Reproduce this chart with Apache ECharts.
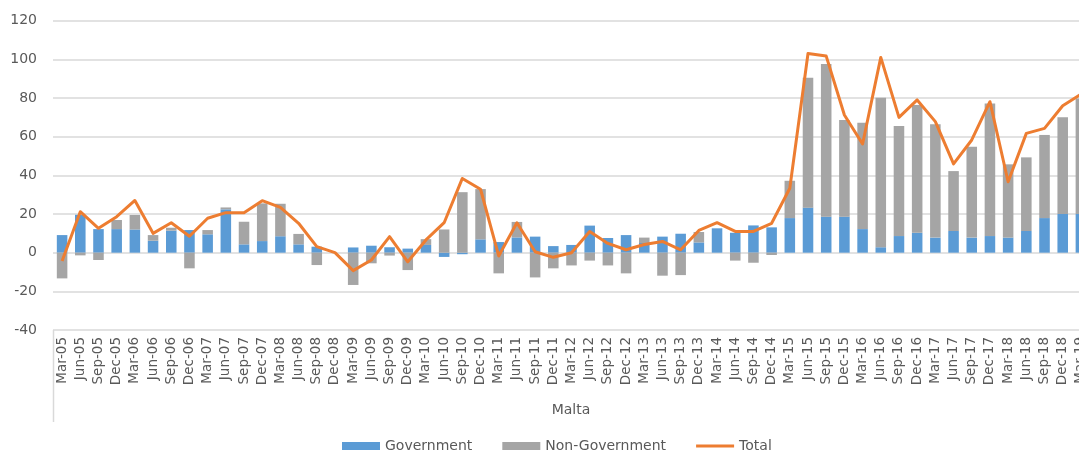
<!DOCTYPE html>
<html>
<head>
<meta charset="utf-8">
<script src="https://cdn.jsdelivr.net/npm/echarts@6/dist/echarts.min.js"></script>
<style>
  html, body { margin: 0; padding: 0; background: #fff; overflow: hidden; }
  #chart { width: 1110px; height: 454px; }
</style>
</head>
<body>
<div id="chart"></div>
<script>
// quarters, Mar-05 .. Mar-19 (last one is cut off at the right edge)
const quarters = [
  'Mar-05', 'Jun-05', 'Sep-05', 'Dec-05', 'Mar-06', 'Jun-06', 'Sep-06', 'Dec-06',
  'Mar-07', 'Jun-07', 'Sep-07', 'Dec-07', 'Mar-08', 'Jun-08', 'Sep-08', 'Dec-08',
  'Mar-09', 'Jun-09', 'Sep-09', 'Dec-09', 'Mar-10', 'Jun-10', 'Sep-10', 'Dec-10',
  'Mar-11', 'Jun-11', 'Sep-11', 'Dec-11', 'Mar-12', 'Jun-12', 'Sep-12', 'Dec-12',
  'Mar-13', 'Jun-13', 'Sep-13', 'Dec-13', 'Mar-14', 'Jun-14', 'Sep-14', 'Dec-14',
  'Mar-15', 'Jun-15', 'Sep-15', 'Dec-15', 'Mar-16', 'Jun-16', 'Sep-16', 'Dec-16',
  'Mar-17', 'Jun-17', 'Sep-17', 'Dec-17', 'Mar-18', 'Jun-18', 'Sep-18', 'Dec-18',
  'Mar-19'
];

const government = [
  9.1, 19.6, 12.2, 12.2, 12.0, 6.2, 11.4, 11.7,
  9.5, 22.4, 4.3, 6.0, 8.5, 4.3, 3.1, 0,
  2.7, 3.6, 2.8, 2.1, 4.0, -2.2, -0.8, 6.9,
  5.5, 7.9, 8.3, 3.4, 4.0, 14.0, 7.6, 9.1,
  5.0, 8.3, 9.8, 5.3, 12.6, 10.3, 14.1, 13.1,
  17.9, 23.3, 18.6, 18.6, 12.2, 2.8, 8.6, 10.3,
  7.8, 11.2, 7.8, 8.6, 7.8, 11.2, 17.9, 20.0,
  20.0
];

const nonGovernment = [
  -13.3, -1.4, -3.8, 4.7, 7.5, 2.9, 1.5, -8.1,
  2.2, 1.0, 11.7, 19.5, 16.8, 5.4, -6.4, 0,
  -16.7, -5.5, -1.5, -9.0, 3.0, 12.0, 31.3, 26.0,
  -10.7, 8.0, -12.8, -8.1, -6.6, -4.1, -6.6, -10.7,
  2.8, -11.9, -11.6, 5.4, 0, -4.1, -5.2, -1.2,
  19.3, 67.2, 79.0, 50.0, 55.0, 77.4, 56.9, 66.1,
  58.6, 31.0, 47.0, 68.6, 37.9, 38.1, 43.0, 50.0,
  59.8
];

const total = [
  -4.3, 21.2, 12.6, 18.6, 27.0, 10.0, 15.5, 8.5,
  17.8, 20.7, 20.7, 26.9, 23.4, 15.2, 3.1, 0,
  -9.3, -3.8, 8.3, -4.7, 6.6, 15.5, 38.4, 32.8,
  -1.7, 15.5, 0.5, -2.4, 0, 10.9, 4.8, 1.5,
  4.2, 5.8, 1.5, 11.5, 15.5, 11.0, 11.0, 15.2,
  33.3, 103.0, 101.7, 71.2, 56.2, 101.0, 70.0, 79.0,
  67.8, 45.9, 58.3, 78.1, 36.7, 61.7, 64.3, 76.0,
  82.0
];

const yTicks = [-40, 120, 20]; // min, max, step
const groupLabel = 'Malta';

const chart = echarts.init(document.getElementById('chart'));
const font = "'DejaVu Sans', sans-serif";
const grey = '#595959';

const option = {
  animation: false,
  textStyle: { fontFamily: font },
  grid: { left: 53, right: 20, top: 20.7, bottom: 124 },
  legend: {
    left: 337,
    top: 434,
    itemWidth: 38,
    itemHeight: 8,
    itemGap: 30,
    symbolKeepAspect: true,
    textStyle: { color: grey, fontSize: 14, fontFamily: font },
    data: [
      { name: 'Government', icon: 'rect' },
      { name: 'Non-Government', icon: 'rect' },
      // plain orange stroke, no marker
      { name: 'Total', icon: 'path://M0,0 L38,0 L38,3 L0,3 Z' }
    ]
  },
  xAxis: {
    type: 'category',
    data: quarters,
    axisLine: { show: false },
    axisTick: { show: false },
    axisLabel: {
      interval: 0,
      rotate: 90,
      margin: 7,
      color: grey,
      fontSize: 13.5,
      fontFamily: font
    }
  },
  yAxis: {
    type: 'value',
    min: yTicks[0],
    max: yTicks[1],
    interval: yTicks[2],
    axisLine: { show: false },
    axisTick: { show: false },
    axisLabel: { color: grey, fontSize: 14, fontFamily: font, margin: 16 },
    splitLine: { lineStyle: { color: '#D9D9D9', width: 1.5 } }
  },
  graphic: [
    // left border of the category label box
    {
      type: 'line',
      shape: { x1: 53.5, y1: 330, x2: 53.5, y2: 422 },
      style: { stroke: '#D9D9D9', lineWidth: 1.5 }
    },
    // outer category level (Excel multi-level axis)
    {
      type: 'text',
      x: 571,
      y: 410,
      style: {
        text: groupLabel,
        fill: grey,
        font: "14px 'DejaVu Sans', sans-serif",
        align: 'center',
        verticalAlign: 'middle'
      }
    }
  ],
  series: [
    {
      name: 'Government',
      type: 'bar',
      stack: 'malta',
      barWidth: '58%',
      itemStyle: { color: '#5B9BD5' },
      data: government
    },
    {
      name: 'Non-Government',
      type: 'bar',
      stack: 'malta',
      barWidth: '58%',
      itemStyle: { color: '#A5A5A5' },
      data: nonGovernment
    },
    {
      name: 'Total',
      type: 'line',
      symbol: 'none',
      lineStyle: { color: '#ED7D31', width: 3, join: 'round' },
      itemStyle: { color: '#ED7D31' },
      data: total
    }
  ]
};

chart.setOption(option);
</script>
</body>
</html>
